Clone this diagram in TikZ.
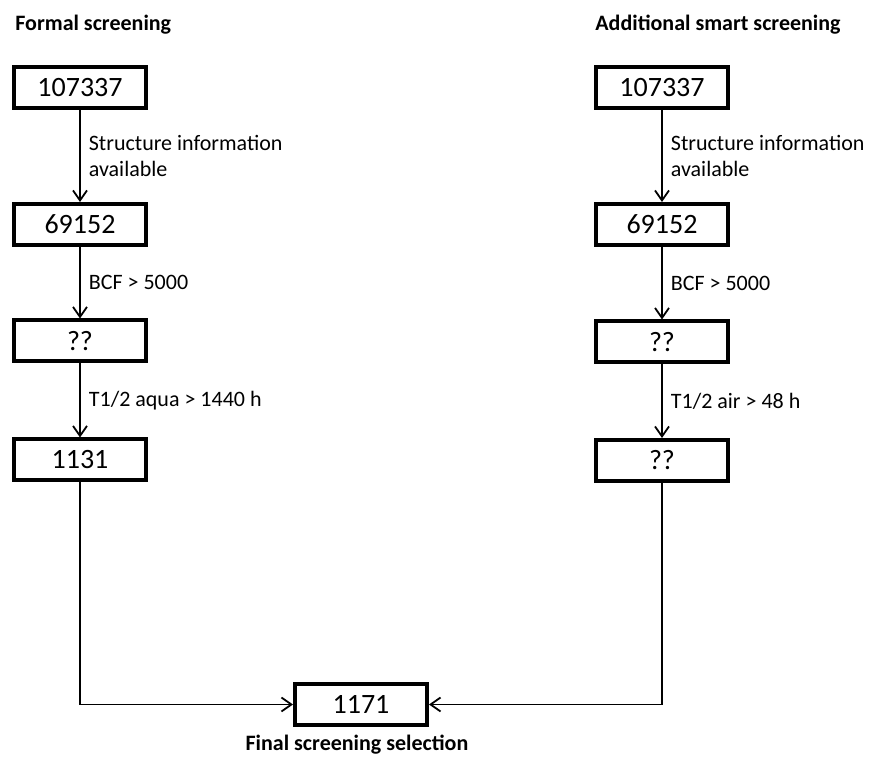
\documentclass[tikz,border=0pt]{standalone}
\usepackage{fontspec}
\setmainfont{Carlito}
\usetikzlibrary{positioning, arrows.meta}

\tikzset{
  box/.style={shape=rectangle, draw=black, line width=2pt, minimum width=66pt, minimum height=20.5pt, inner sep=0pt, font=\fontsize{14}{16}\selectfont},
  flow/.style={-{Straight Barb[length=5pt,width=7pt]}, line width=0.9pt},
  cond/.style={right, align=left, inner sep=4pt, font=\fontsize{11}{13}\selectfont},
  heading/.style={inner sep=0pt, font=\bfseries\fontsize{11}{13}\selectfont}
}

\begin{document}
\begin{tikzpicture}[x=0.5pt, y=-0.5pt]
  \useasboundingbox (0,0) rectangle (869,758);

  \node[heading, anchor=west] (formal) at (15,25) {Formal screening};
  \node[heading, anchor=west] (smart) at (595,25) {Additional smart screening};

  % formal screening
  \node[box] (L1) at (80,88) {107337};
  \node[box] (L2) at (80,224.5) {69152};
  \node[box] (L3) at (80,341) {??};
  \node[box] (L4) at (80,460) {1131};
  \draw[flow] (L1) -- node[cond] {Structure information\\available} (L2);
  \draw[flow] (L2) -- node[cond] {BCF > 5000} (L3);
  \draw[flow] (L3) -- node[cond] {T1/2 aqua > 1440 h} (L4);

  % additional smart screening
  \node[box] (R1) at (662,88) {107337};
  \node[box] (R2) at (662,224.5) {69152};
  \node[box] (R3) at (662,342) {??};
  \node[box] (R4) at (662,460.5) {??};
  \draw[flow] (R1) -- node[cond] {Structure information\\available} (R2);
  \draw[flow] (R2) -- node[cond] {BCF > 5000} (R3);
  \draw[flow] (R3) -- node[cond] {T1/2 air > 48 h} (R4);

  % final selection
  \node[box] (fin) at (361,704.5) {1171};
  \node[heading] (finlabel) at (357,745) {Final screening selection};
  \draw[flow] (L4) |- (fin);
  \draw[flow] (R4) |- (fin);
\end{tikzpicture}
\end{document}
